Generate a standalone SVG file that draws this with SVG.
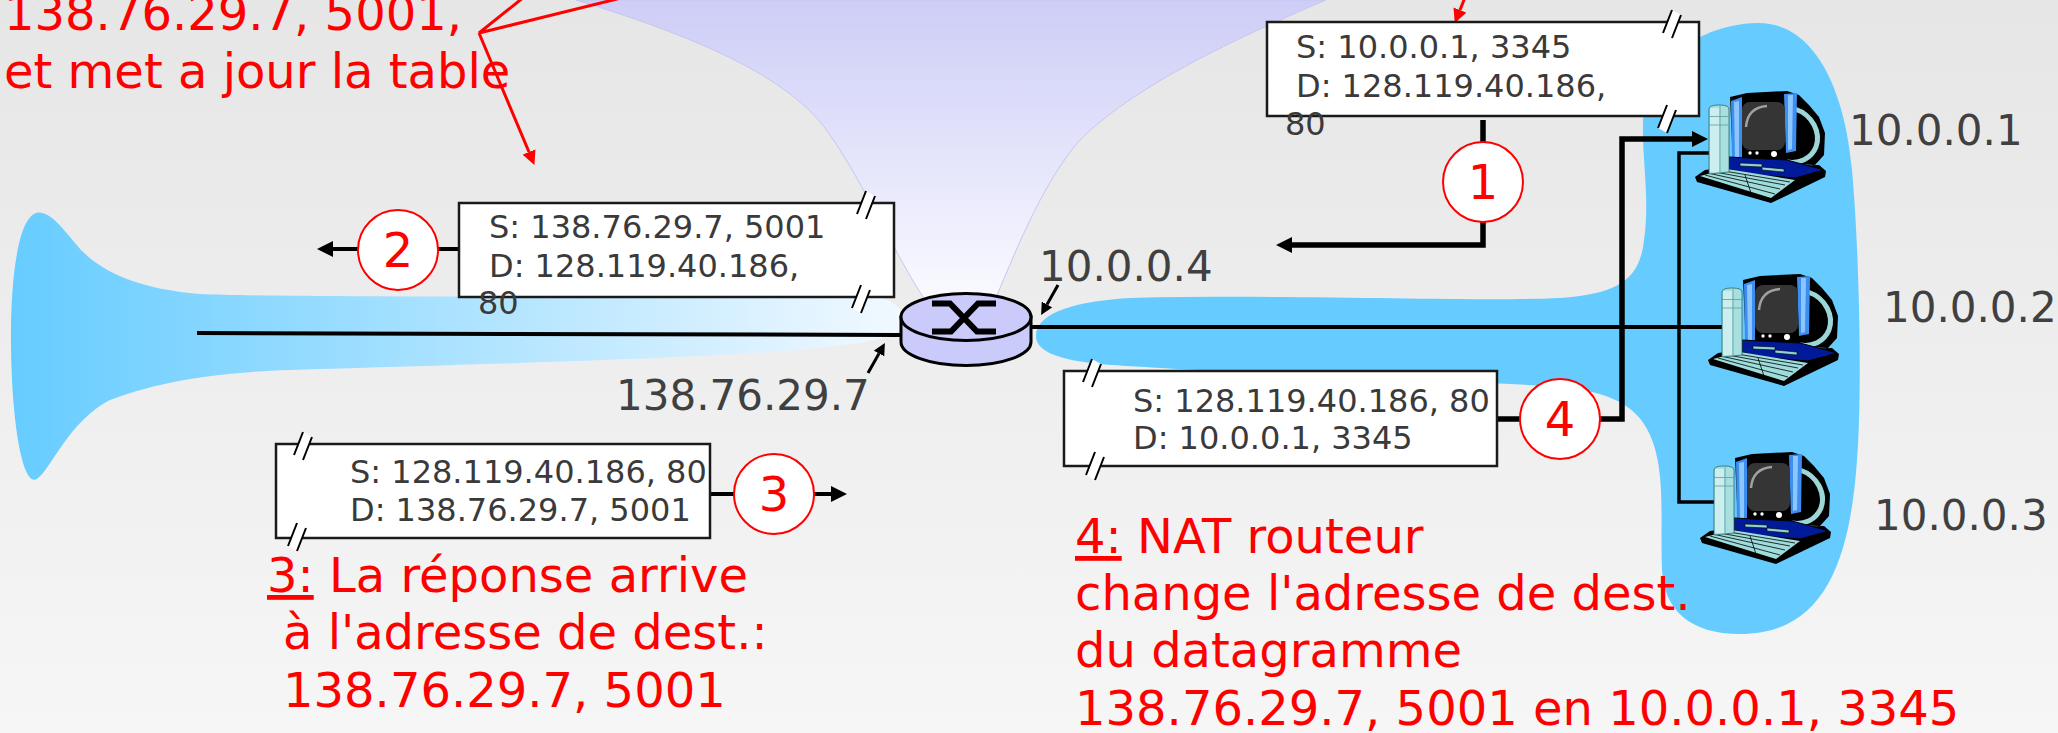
<svg xmlns="http://www.w3.org/2000/svg" xmlns:xlink="http://www.w3.org/1999/xlink" width="2058" height="733" viewBox="0 0 2058 733">
<defs>
<style>
.box{fill:#fff;stroke:#1a1a1a;stroke-width:2.5}
.bt{font-family:"DejaVu Sans",sans-serif;font-size:32px;fill:#3a3a3a}
.ip{font-family:"DejaVu Sans",sans-serif;font-size:42px;fill:#404040}
.red{font-family:"DejaVu Sans",sans-serif;font-size:48px;fill:#ff0000}
.step{fill:#fff;stroke:#ff0000;stroke-width:2}
.num{font-family:"DejaVu Sans",sans-serif;font-size:48px;fill:#ff0000;text-anchor:middle}
.ln{fill:none;stroke:#000;stroke-width:4}
.thick{fill:none;stroke:#000;stroke-width:5.5}
.thin{fill:none;stroke:#000;stroke-width:3.5}
.sm{fill:none;stroke:#000;stroke-width:3}
.rl{fill:none;stroke:#ff0000;stroke-width:3}
</style>
<linearGradient id="bg" x1="0" y1="0" x2="0" y2="1"><stop offset="0" stop-color="#e6e6e6"/><stop offset="1" stop-color="#f6f6f6"/></linearGradient>
<linearGradient id="inet" x1="0" y1="0" x2="0" y2="1"><stop offset="0" stop-color="#cdcdf7"/><stop offset="1" stop-color="#fafaff"/></linearGradient>
<linearGradient id="horn" x1="0" y1="0" x2="1" y2="0"><stop offset="0" stop-color="#66ccff"/><stop offset="1" stop-color="#f2f9ff"/></linearGradient>
<marker id="ab" viewBox="0 0 16 16" markerUnits="userSpaceOnUse" markerWidth="16" markerHeight="16" refX="0" refY="8" orient="auto"><path d="M0,0 L16,8 L0,16 Z" fill="#000"/></marker>
<marker id="as" viewBox="0 0 12 12" markerUnits="userSpaceOnUse" markerWidth="12" markerHeight="12" refX="0" refY="6" orient="auto"><path d="M0,0 L12,6 L0,12 Z" fill="#000"/></marker>
<marker id="ar" viewBox="0 0 14 14" markerUnits="userSpaceOnUse" markerWidth="14" markerHeight="14" refX="0" refY="7" orient="auto"><path d="M0,0 L14,7 L0,14 Z" fill="#ff0000"/></marker>
<g id="brk"><path d="M-9,10 L0,-13 L9,-8 L0,15 Z" fill="#fff"/><path d="M-9,10 L0,-13 M0,15 L9,-8" stroke="#000" stroke-width="2"/></g>
<g id="pc">
 <path d="M43,12 L60,8 L100,6 L112,10 L122,20 L132,32 L138,48 L137,70 L128,80 L104,79 L46,80 Z" fill="#000"/>
 <path d="M108,24 C126,30 134,48 129,62 C124,74 112,79 100,77" fill="none" stroke="#9dd6d6" stroke-width="5"/>
 <path d="M44,16 L55,12 L55,74 L45,77 Z" fill="#3d8ef0"/>
 <path d="M47,17 L52,16 L52,72 L48,73 Z" fill="#8cc6ff"/>
 <path d="M97,9 L110,8 L109,66 L99,68 Z" fill="#3d8ef0"/>
 <path d="M101,10 L106,10 L105,64 L101,65 Z" fill="#8cc6ff"/>
 <rect x="55" y="17" width="43" height="48" rx="8" fill="#353535"/>
 <path d="M59,42 C60,29 67,22 80,21" fill="none" stroke="#a0a0a0" stroke-width="2.5"/>
 <circle cx="63" cy="68" r="1.7" fill="#fff"/><circle cx="70" cy="68" r="1.7" fill="#fff"/><circle cx="87" cy="69" r="3" fill="#fff"/>
 <path d="M8,92 L18,85 L40,82 L132,80 L139,86 L138,92 L84,118 L10,97 Z" fill="#000"/>
 <path d="M42,72 L100,75 L137,85 L108,93 L60,89 L42,84 Z" fill="#001a99" stroke="#000" stroke-width="1"/>
 <path d="M53,78 L75,79 L75,82 L53,81 Z M75,82 L97,84 L97,87 L75,85 Z" fill="#8fd3d3" stroke="#000" stroke-width="0.6"/>
 <path d="M13,91 L40,84 L108,95 L84,113 Z" fill="#9fdcdc"/>
 <path d="M18,90 L88,109 M23,88.5 L93,104 M28,87 L98,100 M34,85.5 L103,97 M58,90 L64,108" stroke="#000" stroke-width="0.8" fill="none"/>
 <path d="M22,24 Q22,20 32,20 Q42,20 42,24 L42,87 L22,89 Z" fill="#a9dfdf" stroke="#2a6a6a" stroke-width="0.8"/>
 <rect x="23" y="23" width="9" height="64" fill="#cdeeee"/>
 <path d="M22,31.5 H42 M22,40 H42 M33,21 V87" stroke="#5c9e9e" stroke-width="0.8"/>
</g>
</defs>
<rect width="2058" height="733" fill="url(#bg)"/>
<g id="internet"><path d="M576,0 C690,35 790,75 830,135 C865,185 895,255 925,300 L995,300 C1020,240 1045,180 1080,140 C1130,90 1220,45 1326,0 Z" fill="url(#inet)" stroke="#c6c6f2" stroke-width="1"/></g>
<g id="public-net"><path d="M36,213 C48,210 60,225 75,243 C95,268 130,288 200,294 C300,298 600,296 880,297 C905,305 908,322 899,330 C880,352 700,358 290,370 C200,373 150,385 110,400 C70,420 50,470 38,478 C25,490 15,440 12,380 C8,300 15,220 36,213 Z" fill="url(#horn)"/></g>
<g id="private-net"><path d="M1036,336 C1036,316 1065,302 1130,298 C1300,294 1480,302 1560,298 C1620,294 1640,278 1644,240 C1650,200 1642,160 1643,124 C1645,70 1690,25 1757,23 C1815,22 1845,90 1852,170 C1860,260 1862,400 1857,460 C1850,560 1825,634 1740,634 C1690,634 1664,610 1662,570 C1660,520 1666,470 1650,435 C1635,400 1600,390 1550,386 C1400,378 1200,372 1100,364 C1060,360 1036,352 1036,336 Z" fill="#66ccff"/></g>
<g id="connectors">
 <path class="ln" d="M197,333 L900,335"/>
 <path class="ln" d="M1030,327 H1723"/>
 <path class="thin" d="M1711,153 H1679 V502 H1720"/>
 <path class="ln" d="M459,249 H333" marker-end="url(#ab)"/>
 <path class="ln" d="M710,494 H831" marker-end="url(#ab)"/>
 <path class="thick" d="M1483,120 V245 H1292" marker-end="url(#ab)"/>
 <path class="thick" d="M1497,419 H1622 V139 H1692" marker-end="url(#ab)"/>
 <path class="sm" d="M1058,285 L1047,304.5" marker-end="url(#as)"/>
 <path class="sm" d="M868,373 L879,353.5" marker-end="url(#as)"/>
 <path class="rl" d="M524,-3 L479,33 L625,-3 M479,33 L529,152" marker-end="url(#ar)"/>
 <path class="rl" d="M1466,-5 L1460,10" marker-end="url(#ar)"/>
</g>
<g id="router">
 <path d="M901,317 V342 A65,23.5 0 0 0 1031,342 V317 Z" fill="#cbcbfb" stroke="#000" stroke-width="3"/>
 <ellipse cx="966" cy="317" rx="65" ry="23.5" fill="#cbcbfb" stroke="#000" stroke-width="3"/>
 <path d="M932,303.5 H950 L977,331.5 H996 M996,303.5 H978 L951,331.5 H932" fill="none" stroke="#000" stroke-width="6"/>
</g>
<g id="datagram-1">
 <rect class="box" x="1267" y="22" width="432" height="94"/>
 <use href="#brk" x="1672" y="23"/><use href="#brk" x="1667" y="118"/>
 <text class="bt" x="1296" y="58">S: 10.0.0.1, 3345</text>
 <text class="bt" x="1296" y="97">D: 128.119.40.186,</text>
 <text class="bt" x="1285" y="135">80</text>
</g>
<g id="datagram-2">
 <rect class="box" x="459" y="203" width="435" height="94"/>
 <use href="#brk" x="866" y="204"/><use href="#brk" x="861" y="298"/>
 <text class="bt" x="489" y="238">S: 138.76.29.7, 5001</text>
 <text class="bt" x="489" y="277">D: 128.119.40.186,</text>
 <text class="bt" x="478" y="314">80</text>
</g>
<g id="datagram-3">
 <rect class="box" x="276" y="444" width="434" height="94"/>
 <use href="#brk" x="303" y="445"/><use href="#brk" x="297" y="536"/>
 <text class="bt" x="350" y="483">S: 128.119.40.186, 80</text>
 <text class="bt" x="350" y="521">D: 138.76.29.7, 5001</text>
</g>
<g id="datagram-4">
 <rect class="box" x="1064" y="371" width="433" height="95"/>
 <use href="#brk" x="1092" y="372"/><use href="#brk" x="1095" y="465"/>
 <text class="bt" x="1133" y="412">S: 128.119.40.186, 80</text>
 <text class="bt" x="1133" y="449">D: 10.0.0.1, 3345</text>
</g>
<g id="step-1"><circle class="step" cx="1483" cy="182" r="40"/><text class="num" x="1483" y="199">1</text></g>
<g id="step-2"><circle class="step" cx="398" cy="250" r="40"/><text class="num" x="398" y="267">2</text></g>
<g id="step-3"><circle class="step" cx="774" cy="494" r="40"/><text class="num" x="774" y="511">3</text></g>
<g id="step-4"><circle class="step" cx="1560" cy="419" r="40"/><text class="num" x="1560" y="436">4</text></g>
<g id="host-1"><use href="#pc" transform="translate(1687,85)"/><text class="ip" x="1849" y="145">10.0.0.1</text></g>
<g id="host-2"><use href="#pc" transform="translate(1700,268)"/><text class="ip" x="1883" y="322">10.0.0.2</text></g>
<g id="host-3"><use href="#pc" transform="translate(1692,446)"/><text class="ip" x="1874" y="530">10.0.0.3</text></g>
<g id="labels">
 <text class="ip" x="1039" y="281">10.0.0.4</text>
 <text class="ip" x="616" y="410">138.76.29.7</text>
 <text class="red" x="4" y="30">138.76.29.7, 5001,</text>
 <text class="red" x="4" y="88">et met a jour la table</text>
 <text class="red" x="267" y="592"><tspan text-decoration="underline">3:</tspan> La réponse arrive</text>
 <text class="red" x="283" y="649">à l'adresse de dest.:</text>
 <text class="red" x="283" y="707">138.76.29.7, 5001</text>
 <text class="red" x="1075" y="553"><tspan text-decoration="underline">4:</tspan> NAT routeur</text>
 <text class="red" x="1075" y="610">change l'adresse de dest.</text>
 <text class="red" x="1075" y="667">du datagramme</text>
 <text class="red" x="1075" y="725">138.76.29.7, 5001 en 10.0.0.1, 3345</text>
</g>
</svg>
